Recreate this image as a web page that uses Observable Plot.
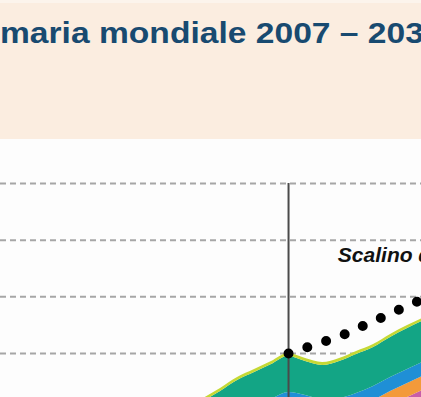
<!DOCTYPE html>
<html>
<head>
<meta charset="utf-8">
<script src="https://cdn.jsdelivr.net/npm/d3@7"></script>
<script src="https://cdn.jsdelivr.net/npm/@observablehq/plot@0.6"></script>
<style>
  html, body { margin: 0; padding: 0; overflow: hidden; background: #fdfdfd; }
  #header { display: block; }
  #chart svg { display: block; }
</style>
</head>
<body>
<svg id="header" width="421" height="139" xmlns="http://www.w3.org/2000/svg">
  <rect x="0" y="0" width="421" height="139" fill="#fbede0"></rect>
  <rect x="0" y="0" width="421" height="3" fill="#fcf4ec"></rect>
  <text id="title" x="0" y="43" transform="scale(1.12,1)" fill="#184a70"
        font-family="Liberation Sans, Arial, Helvetica, sans-serif" font-weight="bold" font-size="30">maria mondiale 2007 – 2030</text>
</svg>
<div id="chart"></div>
<script>
// ---- data (Mtoe) ----
const years = [2000, 2001, 2002, 2003, 2004, 2005, 2006, 2007, 2008, 2009, 2010, 2011, 2012, 2013, 2014, 2015];
const layerNames = ["Petrolio e carbone", "Gas", "Nucleare", "Idroelettrico", "Biomassa", "Altre rinnovabili"];
const layerColors = ["#8a6bb0", "#c85ea8", "#f39a3a", "#1f8fd6", "#13a585", "#c5d834"];
const baseValues   = [6672, 7025, 7378, 7731, 8119, 8401, 8684, 8931, 8825, 8683, 8719, 8896, 9143, 9460, 9742, 10025];
const gasValues    = [706, 706, 706, 706, 706, 706, 706, 706, 706, 706, 706, 706, 706, 706, 706, 706];
const nuclearValues = [494, 494, 494, 494, 494, 494, 494, 494, 494, 494, 494, 494, 494, 494, 494, 494];
const hydroValues  = [494, 494, 494, 494, 494, 494, 494, 494, 494, 494, 494, 494, 494, 494, 494, 494];
const biomassValues = [1235, 1235, 1235, 1235, 1235, 1235, 1235, 1270, 1200, 1200, 1306, 1376, 1376, 1412, 1447, 1447];
const renewValues  = [105, 105, 105, 105, 105, 105, 105, 105, 105, 105, 105, 105, 105, 105, 105, 105];

// dotted "Scalino" line
const stepYears  = [2007, 2010, 2015, 2020];
const stepValues = [12000, 12600, 13950, 15300];

// grid values
const gridValues = [12000, 14000, 16000, 18000];
const markerYear = 2007;
const noteText = "Scalino di";

// ---- build tidy table ----
const layerValues = [baseValues, gasValues, nuclearValues, hydroValues, biomassValues, renewValues];
const table = layerNames.flatMap((name, i) =>
  years.map((year, j) => ({year, value: layerValues[i][j], layer: name}))
);
const stepTable = stepYears.map((year, i) => ({year, value: stepValues[i]}));

const yLow = 10447, yHigh = 19553;

const chart = Plot.plot({
  width: 421,
  height: 258,
  margin: 0,
  x: {domain: [1990.06, 2014.82], axis: null},
  y: {domain: [yLow, yHigh], axis: null},
  color: {domain: layerNames, range: layerColors},
  style: {background: "#fdfdfd", fontFamily: "Liberation Sans, Arial, sans-serif", overflow: "hidden"},
  marks: [
    Plot.ruleY(gridValues, {stroke: "#a6a6a6", strokeWidth: 2, strokeDasharray: "6,4"}),
    Plot.areaY(table, {x: "year", y: "value", fill: "layer", curve: "monotone-x", clip: true}),
    Plot.ruleX([markerYear], {y1: 18000, y2: yLow, stroke: "#4a4a4a", strokeWidth: 2}),
    Plot.line(stepTable, {x: "year", y: "value", stroke: "#000", strokeWidth: 10,
      strokeDasharray: "0,19.8", strokeLinecap: "round", clip: true}),
    Plot.text([noteText], {x: 2009.9, y: 15247, text: d => d, textAnchor: "start", lineAnchor: "bottom",
      fontSize: 21, fontWeight: "bold", fontStyle: "italic", fill: "#111", letterSpacing: 0.6})
  ]
});
document.getElementById("chart").appendChild(chart);
</script>
</body>
</html>
